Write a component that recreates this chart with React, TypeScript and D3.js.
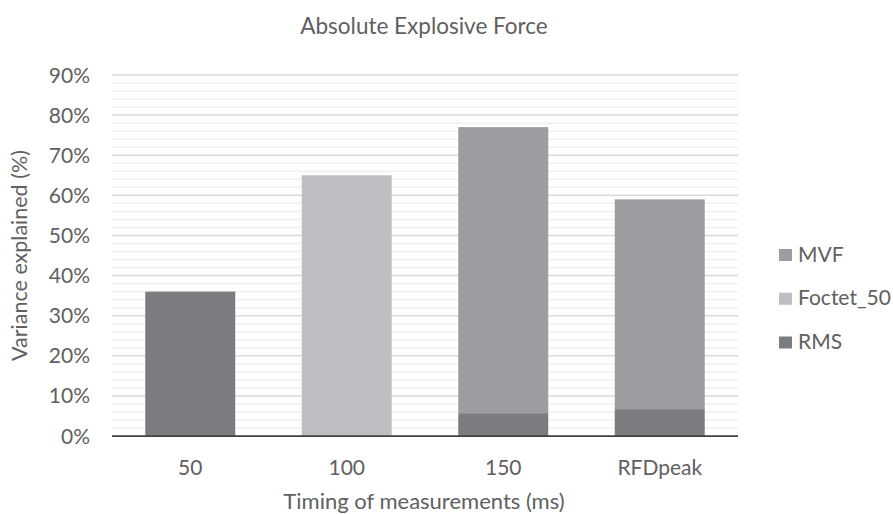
import React from "react";
import * as d3 from "d3";

const categories = ["50", "100", "150", "RFDpeak"];
const seriesNames = ["RMS", "Foctet_50", "MVF"];
const rmsValues = [36, 0, 5.7, 6.7];
const foctetValues = [0, 65, 0, 0];
const mvfValues = [0, 0, 71.3, 52.3];
const yTicks = [0, 10, 20, 30, 40, 50, 60, 70, 80, 90];
const legendOrder = ["MVF", "Foctet_50", "RMS"];

const colors: Record<string, string> = {
  RMS: "#7b7c80",
  Foctet_50: "#bebfc2",
  MVF: "#9c9da1",
};

const W = 893;
const H = 514;
const margin = { left: 112, right: 155, top: 75, bottom: 78 };
const FONT = "Lato, sans-serif";
const TXT = "#606060";
const FW = 400;

export default function App() {
  const x = d3
    .scaleBand<string>()
    .domain(categories)
    .range([margin.left, W - margin.right])
    .paddingInner(0.425)
    .paddingOuter(0.2125);
  const y = d3.scaleLinear().domain([0, 90]).range([H - margin.bottom, margin.top]);

  const rows = categories.map((c, i) => ({
    cat: c,
    RMS: rmsValues[i],
    Foctet_50: foctetValues[i],
    MVF: mvfValues[i],
  }));
  const stack = d3.stack<any>().keys(seriesNames)(rows);
  const minor = d3.range(0, 90, 2).filter((v) => v % 10 !== 0);

  return (
    <svg width={W} height={H} style={{ position: "absolute", left: 0, top: 0, background: "#fff" }}>
      <text x={424} y={33.5} textAnchor="middle" fontFamily={FONT} fontWeight={FW} fontSize={22.5} fill={TXT}>
        Absolute Explosive Force
      </text>
      {minor.map((v) => (
        <line key={"m" + v} x1={margin.left} x2={W - margin.right} y1={y(v)} y2={y(v)} stroke="#f0f0f0" strokeWidth={1.5} />
      ))}
      {yTicks.filter((v) => v > 0).map((v) => (
        <line key={"g" + v} x1={margin.left} x2={W - margin.right} y1={y(v)} y2={y(v)} stroke="#d9d9d9" strokeWidth={1.5} />
      ))}
      {stack.map((s) =>
        s.map((d, i) =>
          d[1] - d[0] > 0 ? (
            <rect
              key={s.key + i}
              x={x(categories[i])}
              width={x.bandwidth()}
              y={y(d[1])}
              height={y(d[0]) - y(d[1])}
              fill={colors[s.key]}
            />
          ) : null
        )
      )}
      <line x1={margin.left} x2={W - margin.right} y1={y(0)} y2={y(0)} stroke="#404040" strokeWidth={1.75} />
      {yTicks.map((v) => (
        <text key={"t" + v} x={90} y={y(v)} dy="0.36em" textAnchor="end" fontFamily={FONT} fontWeight={FW} fontSize={21} fill={TXT}>
          {v}%
        </text>
      ))}
      {categories.map((c) => (
        <text key={c} x={x(c)! + x.bandwidth() / 2} y={474.5} textAnchor="middle" fontFamily={FONT} fontWeight={FW} fontSize={21} fill={TXT}>
          {c}
        </text>
      ))}
      <text x={424} y={509} textAnchor="middle" fontFamily={FONT} fontWeight={FW} fontSize={22} fill={TXT}>
        Timing of measurements (ms)
      </text>
      <text
        transform={`translate(27,${(y(0) + y(90)) / 2}) rotate(-90)`}
        textAnchor="middle"
        fontFamily={FONT}
        fontWeight={FW}
        fontSize={21.5}
        fill={TXT}
      >
        Variance explained (%)
      </text>
      {legendOrder.map((k, i) => (
        <g key={k} transform={`translate(779,${254 + i * 43.75})`}>
          <rect x={0} y={-5} width={13} height={12} fill={colors[k]} />
          <text x={19} y={0} dy="0.36em" fontFamily={FONT} fontWeight={FW} fontSize={21} fill={TXT}>
            {k}
          </text>
        </g>
      ))}
    </svg>
  );
}
